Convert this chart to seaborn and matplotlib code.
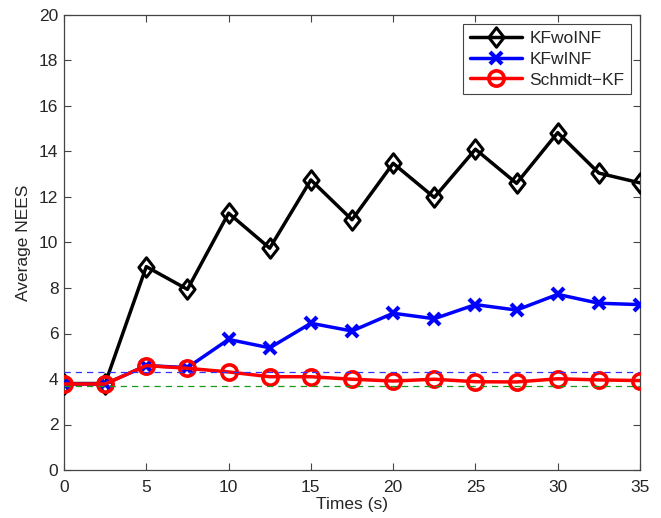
import numpy as np
import pandas as pd
import matplotlib
matplotlib.use("Agg")
import matplotlib.pyplot as plt
from matplotlib.path import Path
import seaborn as sns

# Time stamps (s)
times = [0, 2.5, 5, 7.5, 10, 12.5, 15, 17.5, 20, 22.5, 25, 27.5, 30, 32.5, 35]

# Average NEES per filter
kf_wo_inf = [3.8, 3.8, 8.94, 7.94, 11.29, 9.75, 12.75, 11.0, 13.48, 11.98, 14.1, 12.6, 14.83, 13.05, 12.62]
kf_w_inf = [3.78, 3.78, 4.59, 4.5, 5.74, 5.37, 6.45, 6.11, 6.89, 6.65, 7.27, 7.03, 7.72, 7.33, 7.27]
schmidt_kf = [3.78, 3.78, 4.59, 4.47, 4.31, 4.10, 4.10, 3.99, 3.91, 3.99, 3.88, 3.87, 4.01, 3.96, 3.93]

# Consistency bounds
upper_bound = 4.32
lower_bound = 3.68

series_names = ["KFwoINF", "KFwINF", "Schmidt\u2212KF"]

df = pd.DataFrame({
    "Times (s)": times * 3,
    "Average NEES": kf_wo_inf + kf_w_inf + schmidt_kf,
    "Filter": sum([[n] * len(times) for n in series_names], []),
})

sns.set_style("ticks")
plt.rcParams["font.family"] = ["Liberation Sans", "DejaVu Sans"]
plt.rcParams["xtick.direction"] = "in"
plt.rcParams["ytick.direction"] = "in"

FS = 12.5

fig = plt.figure(figsize=(6.61, 5.18), dpi=100)
ax = fig.add_axes([64 / 661, 1 - 470 / 518, (640 - 64) / 661, (470 - 15) / 518])

diamond = Path([(0, 1), (0.78, 0), (0, -1), (-0.78, 0), (0, 1)],
               [Path.MOVETO, Path.LINETO, Path.LINETO, Path.LINETO, Path.CLOSEPOLY])

styles = {
    "KFwoINF": dict(color="black", marker=diamond, markersize=14, mfc="none",
                    mec="black", mew=2.2),
    "KFwINF": dict(color="blue", marker="x", markersize=8, mfc="blue",
                   mec="blue", mew=3),
    "Schmidt\u2212KF": dict(color="red", marker="o", markersize=11, mfc="none",
                            mec="red", mew=2.6),
}

for name in series_names:
    st = styles[name]
    sub = df[df["Filter"] == name]
    sns.lineplot(data=sub, x="Times (s)", y="Average NEES", ax=ax,
                 color=st["color"], linewidth=2.5, marker=st["marker"],
                 markersize=st["markersize"], markerfacecolor=st["mfc"],
                 markeredgecolor=st["mec"], markeredgewidth=st["mew"], label=name,
                 zorder=3)

ax.plot([times[0], times[-1]], [upper_bound, upper_bound], color="#3030ff",
        linestyle=(0, (5, 4)), linewidth=0.9, zorder=4)
ax.plot([times[0], times[-1]], [lower_bound, lower_bound], color="#1a9a1a",
        linestyle=(0, (5, 4)), linewidth=0.9, zorder=4)

ax.set_xlim(0, 35)
ax.set_ylim(0, 20)
ax.set_xticks(np.arange(0, 36, 5))
ax.set_yticks(np.arange(0, 21, 2))
ax.tick_params(axis="both", which="both", top=True, right=True, length=5,
               width=0.8, color="#444444", labelsize=FS)
ax.tick_params(axis="x", pad=7)
ax.tick_params(axis="y", pad=4)
for sp in ax.spines.values():
    sp.set_visible(True)
    sp.set_color("#444444")
    sp.set_linewidth(0.9)

ax.set_xlabel("Times (s)", fontsize=FS, labelpad=2)
ax.set_ylabel("Average NEES", fontsize=FS, labelpad=6)

leg = ax.legend(loc="upper right", fontsize=FS, frameon=True, fancybox=False,
                edgecolor="#444444", framealpha=1, handlelength=3.0,
                borderpad=0.4, labelspacing=0.33, handletextpad=0.4,
                borderaxespad=0.5)
leg.get_frame().set_linewidth(0.8)

fig.savefig("out.png", dpi=100)
